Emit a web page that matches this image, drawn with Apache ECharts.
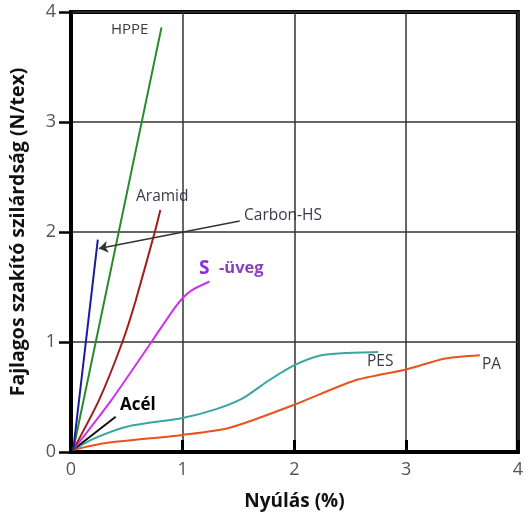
<!DOCTYPE html>
<html>
<head>
<meta charset="utf-8">
<script src="https://cdn.jsdelivr.net/npm/echarts@6/dist/echarts.min.js"></script>
<style>
  html, body { margin: 0; padding: 0; background: #fff; }
  #chart { width: 526px; height: 517px; }
</style>
</head>
<body>
<div id="chart"></div>
<script>
// tengely beosztások
const xTicks = [0, 1, 2, 3, 4];
const yTicks = [0, 1, 2, 3, 4];

// görbék [nyúlás %, szilárdság N/tex]
const hppe = [[0.02, 0.02], [0.81, 3.86]];
const aramid = [[0.02, 0.02], [0.25, 0.47], [0.46, 1.0], [0.58, 1.38], [0.75, 2.0], [0.8, 2.2]];
const carbon = [[0.02, 0.02], [0.24, 1.93]];
const sGlass = [[0.02, 0.02], [0.36, 0.47], [0.72, 1.0], [0.9, 1.27], [1.0, 1.4], [1.08, 1.47], [1.24, 1.55]];
const acel = [[0.02, 0.02], [0.4, 0.32]];
const pes = [[0.02, 0.02], [0.2, 0.12], [0.5, 0.23], [1.0, 0.31], [1.3, 0.39], [1.54, 0.49], [1.77, 0.65], [2.0, 0.79], [2.24, 0.88], [2.45, 0.9], [2.75, 0.91]];
const pa = [[0.02, 0.02], [0.3, 0.08], [1.0, 0.155], [1.42, 0.22], [2.0, 0.43], [2.54, 0.65], [3.0, 0.75], [3.35, 0.85], [3.66, 0.88]];

// Carbon-HS nyíl
const arrowFrom = [1.51, 2.1];
const arrowTo = [0.25, 1.85];

const chart = echarts.init(document.getElementById('chart'));

function curve(name, data, color, smooth) {
    return {
        name: name,
        type: 'line',
        data: data,
        showSymbol: false,
        smooth: smooth,
        lineStyle: { color: color, width: 2 },
        silent: true
    };
}

const carbonSeries = curve('Carbon-HS', carbon, '#1c1c9a', false);
carbonSeries.markLine = {
    silent: true,
    symbol: ['none', 'arrow'],
    symbolSize: 9,
    label: { show: false },
    lineStyle: { color: '#333', width: 1.5, type: 'solid' },
    data: [[{ coord: arrowFrom }, { coord: arrowTo }]]
};

const labelFont = 'Open Sans, sans-serif';

chart.setOption({
    animation: false,
    grid: {
        left: 71, top: 12, width: 458, height: 440,
        show: true, borderColor: '#000', borderWidth: 4
    },
    xAxis: {
        type: 'value',
        min: xTicks[0], max: xTicks[xTicks.length - 1], interval: 1,
        name: 'Nyúlás (%)',
        nameLocation: 'middle',
        nameGap: 40,
        nameTextStyle: { fontFamily: 'Open Sans', fontWeight: 'bold', fontSize: 19, color: '#111' },
        axisLine: { show: true, lineStyle: { color: '#000', width: 4 } },
        axisTick: { show: true, inside: true, length: 12, lineStyle: { color: '#000', width: 3 } },
        axisLabel: { fontFamily: 'Open Sans', fontSize: 18, color: '#555', margin: 9, showMaxLabel: true },
        splitLine: { show: true, lineStyle: { color: '#333', width: 1.5 } }
    },
    yAxis: {
        type: 'value',
        min: yTicks[0], max: yTicks[yTicks.length - 1], interval: 1,
        name: 'Fajlagos szakító szilárdság (N/tex)',
        nameLocation: 'middle',
        nameGap: 43,
        nameTextStyle: { fontFamily: 'Open Sans', fontWeight: 'bold', fontSize: 19.5, color: '#111' },
        axisLine: { show: true, lineStyle: { color: '#000', width: 4 } },
        axisTick: { show: true, length: 12, lineStyle: { color: '#000', width: 2.5 } },
        axisLabel: { fontFamily: 'Open Sans', fontSize: 18, color: '#555', margin: 15 },
        splitLine: { show: true, lineStyle: { color: '#333', width: 1.5 } }
    },
    series: [
        curve('PA', pa, '#e8531f', 0.25),
        curve('PES', pes, '#3aa6a0', 0.25),
        curve('Acél', acel, '#111', false),
        curve('S-üveg', sGlass, '#cc33ee', 0.25),
        curve('Aramid', aramid, '#a01e1e', 0.2),
        curve('HPPE', hppe, '#2a8a2a', false),
        carbonSeries
    ],
    graphic: [
        { type: 'text', left: 111, top: 22, style: { text: 'HPPE', font: '15px ' + labelFont, fill: '#3a3a4a' } },
        { type: 'text', left: 136, top: 189, style: { text: 'Aramid', font: '15.5px ' + labelFont, fill: '#3a3a4a' } },
        { type: 'text', left: 244, top: 208, style: { text: 'Carbon-HS', font: '15.5px ' + labelFont, fill: '#3a3a4a' } },
        { type: 'text', left: 199, top: 259, style: { text: 'S', font: 'bold 19px Open Sans', fill: '#8a2be2' } },
        { type: 'text', left: 219, top: 260, style: { text: '-üveg', font: 'bold 16.5px Open Sans', fill: '#8a3fbf' } },
        { type: 'text', left: 367, top: 354, style: { text: 'PES', font: '15.5px ' + labelFont, fill: '#3a3a4a' } },
        { type: 'text', left: 482, top: 357, style: { text: 'PA', font: '15.5px ' + labelFont, fill: '#3a3a4a' } },
        { type: 'text', left: 120, top: 397, style: { text: 'Acél', font: 'bold 17px Open Sans', fill: '#000' } }
    ]
});
</script>
</body>
</html>
